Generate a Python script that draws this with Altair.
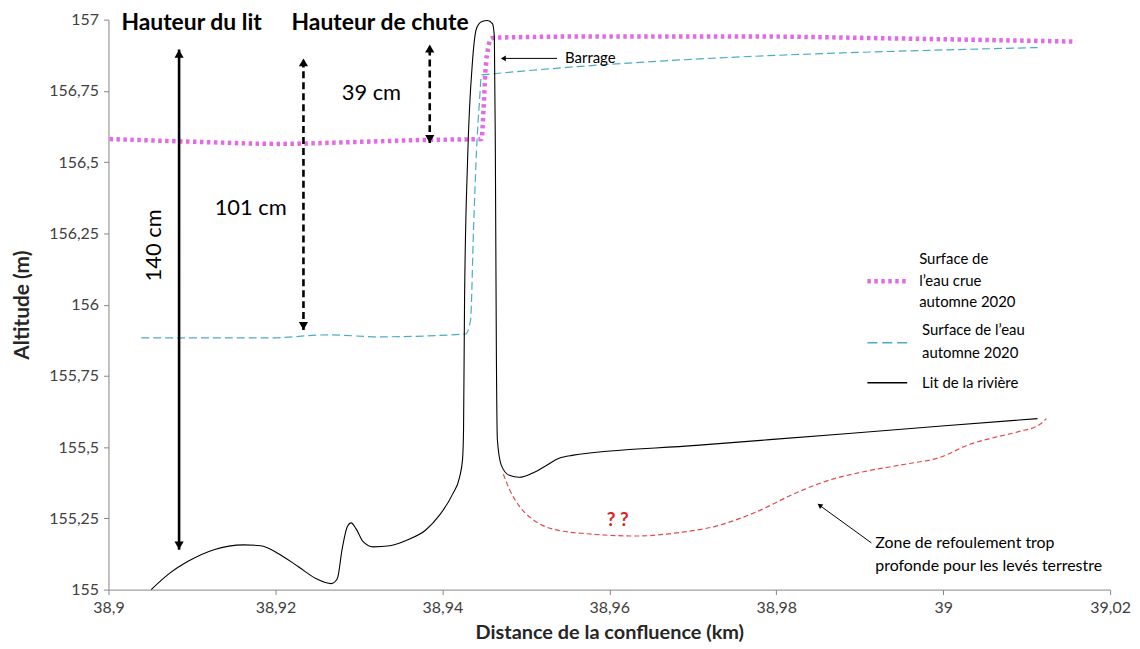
import altair as alt
import pandas as pd

# ---------------- data ----------------
# Lit de la rivière (river bed)
bed_x = [38.90512, 38.90727, 38.90965, 38.91263, 38.91621, 38.91823, 38.92038, 38.92276,
         38.92491, 38.92669, 38.92741, 38.92800, 38.92860, 38.92908, 38.92967, 38.93051,
         38.93170, 38.93372, 38.93587, 38.93801, 38.93968, 38.94123, 38.94206, 38.94242,
         38.94254, 38.94266, 38.94302, 38.94361, 38.94409, 38.94469, 38.94540, 38.94600,
         38.94623, 38.94635, 38.94647, 38.94659, 38.94707, 38.94802, 38.94921, 38.95076,
         38.95231, 38.95398, 38.95553, 38.97042, 38.98830, 39.00021, 39.01130]
bed_y = [155.000, 155.056, 155.101, 155.140, 155.157, 155.154, 155.126, 155.080,
         155.038, 155.021, 155.038, 155.143, 155.220, 155.234, 155.213, 155.168,
         155.150, 155.154, 155.175, 155.209, 155.262, 155.335, 155.394, 155.457,
         155.562, 156.016, 156.504, 156.853, 156.969, 156.993, 156.997, 156.986,
         156.941, 156.539, 155.841, 155.527, 155.436, 155.401, 155.394, 155.408,
         155.433, 155.461, 155.471, 155.506, 155.547, 155.575, 155.600]

# Surface de l'eau crue automne 2020 (flood water surface)
flood_x = [38.90012, 38.91084, 38.92038, 38.92991, 38.93825, 38.94469, 38.94492, 38.94516,
           38.94552, 38.94588, 38.94659, 38.95851, 38.97638, 38.99426, 39.01571]
flood_y = [156.581, 156.571, 156.564, 156.571, 156.578, 156.581, 156.679, 156.818,
           156.906, 156.934, 156.937, 156.941, 156.941, 156.934, 156.923]

# Surface de l'eau automne 2020 (water surface)
water_x = [38.90393, 38.91919, 38.92634, 38.93229, 38.94278, 38.94338, 38.94373, 38.94409,
           38.94445, 38.94469, 38.94540, 39.01130]
water_y = [155.883, 155.883, 155.894, 155.887, 155.897, 155.946, 156.260, 156.539,
           156.714, 156.805, 156.808, 156.902]

# Zone de refoulement (estimated deep zone)
zone_x = [38.94731, 38.94802, 38.94921, 38.95076, 38.95315, 38.95732, 38.96328, 38.96804,
          38.97281, 38.97757, 38.98234, 38.98592, 38.99068, 38.99545, 38.99962, 39.00319,
          39.00617, 39.00915, 39.01154, 39.01237]
zone_y = [155.405, 155.353, 155.293, 155.248, 155.213, 155.196, 155.188, 155.199,
          155.223, 155.272, 155.339, 155.380, 155.415, 155.440, 155.464, 155.510,
          155.534, 155.555, 155.579, 155.600]

x_ticks = [38.9, 38.92, 38.94, 38.96, 38.98, 39.0, 39.02]
y_ticks = [155, 155.25, 155.5, 155.75, 156, 156.25, 156.5, 156.75, 157]

# annotation arrows (height measurements)
meas_x = [38.90846, 38.92336, 38.93849]
meas_y_low = [155.140, 155.911, 156.567]
meas_y_high = [156.895, 156.864, 156.913]
meas_dash = ["solid", "dashed", "dashed"]
meas_head_up = [156.880, 156.850, 156.899]
meas_head_down = [155.155, 155.925, 156.581]

meas_labels = ["101 cm", "39 cm"]
meas_label_x = [38.91704, 38.93150]
meas_label_y = [156.340, 156.742]

heading_labels = ["Hauteur du lit", "Hauteur de chute"]
heading_x = [38.90155, 38.92193]
heading_y = [156.9895, 156.9895]

legend_labels = ["Surface de", "l\u2019eau crue", "automne 2020",
                 "Surface de l\u2019eau", "automne 2020", "Lit de la rivi\u00e8re"]
legend_label_x = [38.99712, 38.99712, 38.99712, 38.99747, 38.99747, 38.99747]
legend_label_y = [156.159, 156.084, 156.009, 155.911, 155.831, 155.726]

FONT = "Lato"

xscale = alt.Scale(domain=[38.9, 39.02], nice=False, zero=False)
yscale = alt.Scale(domain=[155, 157], nice=False, zero=False)

xaxis = alt.Axis(values=x_ticks, labelExpr="replace(format(datum.value, '.2~f'), '.', ',')",
                 title="Distance de la confluence (km)", grid=False, labelFlush=False)
yaxis = alt.Axis(values=y_ticks, labelExpr="replace(format(datum.value, '.2~f'), '.', ',')",
                 title="Altitude (m)", grid=False, labelFlush=False)


def X(field="x"):
    return alt.X(f"{field}:Q", scale=xscale, axis=xaxis)


def Y(field="y"):
    return alt.Y(f"{field}:Q", scale=yscale, axis=yaxis)


def line(xs, ys, **kw):
    df = pd.DataFrame({"x": xs, "y": ys})
    return alt.Chart(df).mark_line(**kw).encode(x=X(), y=Y())


layers = []
layers.append(line(water_x, water_y, color="#4BACC6", strokeWidth=1.2, strokeDash=[8, 4],
                   interpolate="monotone"))
layers.append(line(flood_x, flood_y, color="#E26AE4", strokeWidth=4.5, strokeDash=[3.5, 3.5],
                   strokeCap="butt", interpolate="monotone"))
layers.append(line(bed_x, bed_y, color="#000000", strokeWidth=1.1, interpolate="monotone"))
layers.append(line(zone_x, zone_y, color="#E04A4A", strokeWidth=1.2, strokeDash=[5, 3],
                   interpolate="monotone"))

# measurement arrows
meas_df = pd.DataFrame({"x": meas_x, "y": meas_y_low, "y2": meas_y_high, "dash": meas_dash})
layers.append(alt.Chart(meas_df[meas_df.dash == "solid"]).mark_rule(
    color="#000", strokeWidth=2.6).encode(x=X(), y=Y(), y2="y2:Q"))
layers.append(alt.Chart(meas_df[meas_df.dash == "dashed"]).mark_rule(
    color="#000", strokeWidth=2.6, strokeDash=[7, 4]).encode(x=X(), y=Y(), y2="y2:Q"))

heads_df = pd.DataFrame({
    "x": meas_x + meas_x,
    "y": meas_head_up + meas_head_down,
    "shape": ["triangle-up"] * 3 + ["triangle-down"] * 3,
})
layers.append(alt.Chart(heads_df).mark_point(filled=True, color="#000", opacity=1, size=85).encode(
    x=X(), y=Y(), shape=alt.Shape("shape:N", scale=None)))

# thin pointer arrows (Barrage, Zone)
ptr_df = pd.DataFrame({"x": [38.95374, 38.99140], "y": [156.864, 155.164],
                       "x2": [38.94719, 38.98532], "y2": [156.864, 155.293]})
layers.append(alt.Chart(ptr_df).mark_rule(color="#000", strokeWidth=1).encode(
    x=X(), y=Y(), x2="x2:Q", y2="y2:Q"))
ptr_heads = pd.DataFrame({"x": [38.94731, 38.98520], "y": [156.864, 155.296], "angle": [270, 306]})
layers.append(alt.Chart(ptr_heads).mark_point(shape="triangle-up", filled=True, color="#000",
                                              opacity=1, size=32).encode(
    x=X(), y=Y(), angle=alt.Angle("angle:Q", scale=None)))

# texts
head_df = pd.DataFrame({"x": heading_x, "y": heading_y, "t": heading_labels})
layers.append(alt.Chart(head_df).mark_text(font=FONT, fontSize=23, fontWeight="bold", align="left",
                                           baseline="middle", color="#000").encode(
    x=X(), y=Y(), text="t:N"))

ml_df = pd.DataFrame({"x": meas_label_x, "y": meas_label_y, "t": meas_labels})
layers.append(alt.Chart(ml_df).mark_text(font=FONT, fontSize=22, align="center", baseline="middle",
                                         color="#000").encode(x=X(), y=Y(), text="t:N"))
layers.append(alt.Chart(pd.DataFrame({"x": [38.90548], "y": [156.208], "t": ["140 cm"]})).mark_text(
    font=FONT, fontSize=22, align="center", baseline="middle", angle=270, color="#000").encode(
    x=X(), y=Y(), text="t:N"))

layers.append(alt.Chart(pd.DataFrame({"x": [38.95470], "y": [156.864], "t": ["Barrage"]})).mark_text(
    font=FONT, fontSize=15, align="left", baseline="middle", color="#000").encode(
    x=X(), y=Y(), text="t:N"))

layers.append(alt.Chart(pd.DataFrame({"x": [38.96100], "y": [155.244], "t": ["? ?"]})).mark_text(
    font=FONT, fontSize=19, fontWeight="bold", align="center", baseline="middle", color="#E0201F").encode(
    x=X(), y=Y(), text="t:N"))

layers.append(alt.Chart(pd.DataFrame({"x": [38.99187, 38.99187], "y": [155.164, 155.084],
                                      "t": ["Zone de refoulement trop",
                                            "profonde pour les lev\u00e9s terrestre"]})).mark_text(
    font=FONT, fontSize=16, align="left", baseline="middle", color="#000").encode(
    x=X(), y=Y(), text="t:N"))

# manual legend
layers.append(alt.Chart(pd.DataFrame({"x": [38.99092], "x2": [38.99569], "y": [156.082]})).mark_rule(
    color="#E26AE4", strokeWidth=4.5, strokeDash=[3.5, 3.5], strokeCap="butt").encode(
    x=X(), x2="x2:Q", y=Y()))
layers.append(alt.Chart(pd.DataFrame({"x": [38.99092], "x2": [38.99569], "y": [155.866]})).mark_rule(
    color="#4BACC6", strokeWidth=1.6, strokeDash=[10, 5]).encode(x=X(), x2="x2:Q", y=Y()))
layers.append(alt.Chart(pd.DataFrame({"x": [38.99092], "x2": [38.99569], "y": [155.726]})).mark_rule(
    color="#000", strokeWidth=1.4).encode(x=X(), x2="x2:Q", y=Y()))
leg_df = pd.DataFrame({"x": legend_label_x, "y": legend_label_y, "t": legend_labels})
layers.append(alt.Chart(leg_df).mark_text(font=FONT, fontSize=15, align="left", baseline="middle",
                                          color="#000").encode(x=X(), y=Y(), text="t:N"))

chart = alt.layer(*layers).properties(
    width=1007, height=573,
    autosize=alt.AutoSizeParams(type="none"),
    padding={"left": 101, "top": 10, "right": 22, "bottom": 57},
).configure_view(stroke=None).configure_axis(
    domainColor="#868686", tickColor="#868686", tickSize=5, labelFont=FONT, labelFontSize=16,
    labelColor="#404040", titleFont=FONT, titleFontSize=21, titleFontWeight="bold", titleColor="#262626",
    labelPadding=5,
).configure_axisY(titlePadding=16).configure_axisX(titlePadding=7, titleFontSize=20)

chart.save("out.html", embed_options={"renderer": "svg", "actions": False})
